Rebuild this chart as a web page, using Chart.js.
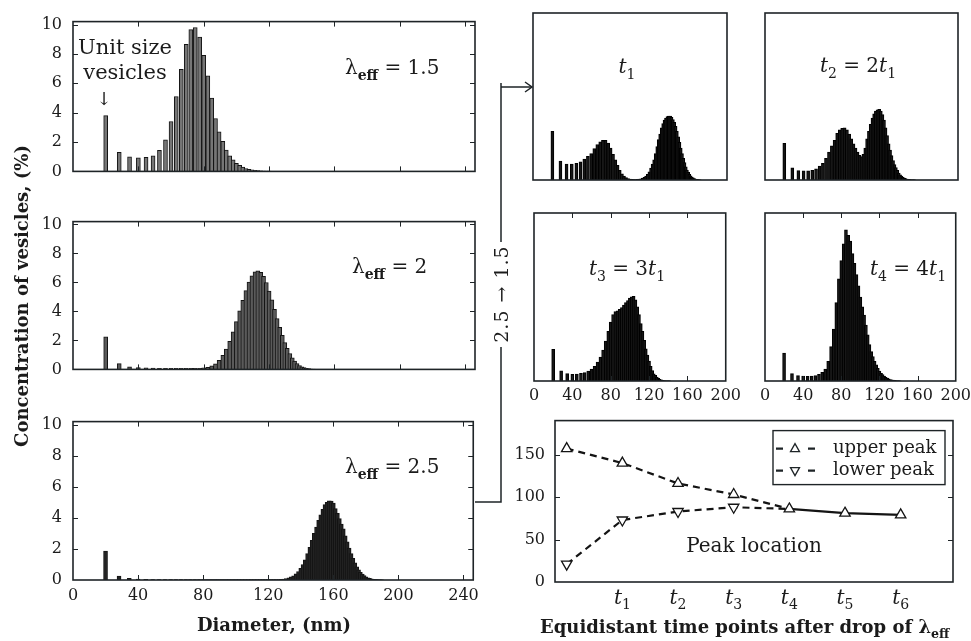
<!DOCTYPE html>
<html>
<head>
<meta charset="utf-8">
<script src="https://cdn.jsdelivr.net/npm/chart.js@4.4.1/dist/chart.umd.min.js"></script>
<style>
  body { margin: 0; width: 971px; height: 641px; overflow: hidden; background: #fff; position: relative;
         font-family: 'DejaVu Serif', serif; color: #1b1b1b; }
  .box { position: absolute; }
  .lbl { position: absolute; white-space: nowrap; transform: translate(-50%, -50%); font-size: 20px; line-height: 1; }
  .lft { transform: translate(0, -50%); }
  .rot { transform: translate(-50%, -50%) rotate(-90deg); }
  sub { font-size: 0.7em; vertical-align: -0.4em; line-height: 0; }
  sub.b { font-weight: bold; }
  i { font-style: italic; }
</style>
</head>
<body>

<div class="box" style="left:0;top:1px;width:485px;height:191px"><canvas id="cL15"></canvas></div>
<div class="box" style="left:0;top:201px;width:485px;height:189px"><canvas id="cL20"></canvas></div>
<div class="box" style="left:0;top:401px;width:485px;height:205px"><canvas id="cL25"></canvas></div>

<div class="box" style="left:523px;top:3px;width:214px;height:187px"><canvas id="cT1"></canvas></div>
<div class="box" style="left:755px;top:3px;width:213px;height:187px"><canvas id="cT2"></canvas></div>
<div class="box" style="left:516px;top:203px;width:230px;height:200px"><canvas id="cT3"></canvas></div>
<div class="box" style="left:747px;top:203px;width:229px;height:200px"><canvas id="cT4"></canvas></div>

<div class="box" style="left:500px;top:401px;width:463px;height:215px"><canvas id="cPeak"></canvas></div>

<svg class="box" style="left:0;top:0" width="971" height="641">
  <g stroke="#1e2427" stroke-width="1.5" fill="none">
    <path d="M501 242 V83 M501 87 H531"/>
    <path d="M525 82 L532 87 L525 92"/>
    <path d="M501 347 V502 H475"/>
  </g>
</svg>

<div class="lbl rot" style="left:22px;top:296px;font-size:18px;font-weight:bold">Concentration of vesicles, (%)</div>
<div class="lbl" style="left:274px;top:625px;font-size:18px;font-weight:bold">Diameter, (nm)</div>
<div class="lbl lft" style="left:540px;top:627px;font-size:18px;font-weight:bold">Equidistant time points after drop of λ<sub>eff</sub></div>

<div class="lbl" style="left:125px;top:47px;font-size:21px">Unit size</div>
<div class="lbl" style="left:125px;top:72px;font-size:21px">vesicles</div>
<div class="lbl" style="left:104px;top:99px;font-size:18px">↓</div>

<div class="lbl lft" style="left:345px;top:67px">λ<sub class="b">eff</sub> = 1.5</div>
<div class="lbl lft" style="left:352px;top:266px">λ<sub class="b">eff</sub> = 2</div>
<div class="lbl lft" style="left:345px;top:466px">λ<sub class="b">eff</sub> = 2.5</div>

<div class="lbl" style="left:627px;top:66px"><i>t</i><sub>1</sub></div>
<div class="lbl" style="left:858px;top:65px"><i>t</i><sub>2</sub> = 2<i>t</i><sub>1</sub></div>
<div class="lbl" style="left:627px;top:268px"><i>t</i><sub>3</sub> = 3<i>t</i><sub>1</sub></div>
<div class="lbl" style="left:908px;top:268px"><i>t</i><sub>4</sub> = 4<i>t</i><sub>1</sub></div>

<div class="lbl" style="left:754px;top:545px">Peak location</div>
<div class="lbl rot" style="left:501px;top:294px;font-size:19px;letter-spacing:1px">2.5 → 1.5</div>

<script>
// vesicle diameters (nm), one per vesicle size class
const diameters = [
  20.0, 28.3, 34.6, 40.0, 44.7, 49.0, 52.9, 56.6, 60.0, 63.2,
  66.3, 69.3, 72.1, 74.8, 77.5, 80.0, 82.5, 84.9, 87.2, 89.4,
  91.7, 93.8, 95.9, 98.0, 100.0, 102.0, 103.9, 105.8, 107.7, 109.5,
  111.4, 113.1, 114.9, 116.6, 118.3, 120.0, 121.7, 123.3, 124.9, 126.5,
  128.1, 129.6, 131.1, 132.7, 134.2, 135.6, 137.1, 138.6, 140.0, 141.4,
  142.8, 144.2, 145.6, 147.0, 148.3, 149.7, 151.0, 152.3, 153.6, 154.9,
  156.2, 157.5, 158.7, 160.0, 161.2, 162.5, 163.7, 164.9, 166.1, 167.3,
  168.5, 169.7, 170.9, 172.0, 173.2, 174.4, 175.5, 176.6, 177.8, 178.9,
  180.0, 181.1, 182.2, 183.3, 184.4, 185.5, 186.5, 187.6, 188.7, 189.7,
  190.8, 191.8, 192.9, 193.9, 194.9, 196.0, 197.0, 198.0, 199.0, 200.0
];

// concentrations (%) at steady state
const concLambda15 = [
  3.8, 1.3, 1.0, 0.92, 0.95, 1.06, 1.43, 2.15, 3.4, 5.1,
  6.95, 8.65, 9.65, 9.8, 9.15, 7.9, 6.5, 5.0, 3.6, 2.7,
  2.05, 1.45, 1.06, 0.78, 0.55, 0.41, 0.29, 0.2, 0.14, 0.1,
  0.07, 0.05, 0.04, 0.03, 0.02, 0.02, 0.01, 0.01, 0.01, 0.01
];
const concLambda20 = [
  2.25, 0.4, 0.17, 0.12, 0.1, 0.09, 0.08, 0.08, 0.07, 0.07,
  0.07, 0.07, 0.07, 0.07, 0.08, 0.1, 0.15, 0.24, 0.39, 0.62,
  0.97, 1.4, 1.94, 2.59, 3.3, 4.05, 4.77, 5.44, 6.03, 6.45,
  6.73, 6.8, 6.7, 6.43, 6.0, 5.4, 4.8, 4.15, 3.5, 2.9,
  2.35, 1.85, 1.45, 1.1, 0.8, 0.58, 0.4, 0.27, 0.18, 0.12,
  0.08, 0.05, 0.03, 0.02, 0.01, 0.01, 0.01, 0.01, 0.01, 0.01
];
const concLambda25 = [
  1.86, 0.25, 0.1, 0.06, 0.04, 0.03, 0.03, 0.03, 0.02, 0.02,
  0.02, 0.02, 0.02, 0.02, 0.02, 0.02, 0.02, 0.02, 0.02, 0.02,
  0.02, 0.02, 0.02, 0.02, 0.02, 0.02, 0.02, 0.02, 0.02, 0.02,
  0.02, 0.02, 0.02, 0.02, 0.02, 0.02, 0.02, 0.02, 0.02, 0.03,
  0.04, 0.06, 0.09, 0.14, 0.2, 0.27, 0.4, 0.55, 0.75, 1.0,
  1.3, 1.7, 2.1, 2.55, 3.0, 3.4, 3.85, 4.2, 4.55, 4.85,
  5.0, 5.1, 5.08, 4.95, 4.6, 4.3, 3.95, 3.6, 3.3, 2.85,
  2.45, 2.05, 1.7, 1.4, 1.1, 0.85, 0.65, 0.5, 0.38, 0.28,
  0.2, 0.14, 0.1, 0.07, 0.05, 0.03, 0.02, 0.015, 0.01, 0.01
];

// transient distributions after the drop 2.5 -> 1.5
const concT1 = [
  3.5, 1.36, 1.15, 1.15, 1.2, 1.3, 1.5, 1.7, 1.9, 2.25,
  2.55, 2.75, 2.85, 2.85, 2.65, 2.3, 1.85, 1.45, 1.05, 0.7,
  0.45, 0.28, 0.17, 0.1, 0.06, 0.04, 0.03, 0.03, 0.04, 0.06,
  0.09, 0.13, 0.2, 0.28, 0.4, 0.58, 0.85, 1.15, 1.45, 1.9,
  2.4, 2.9, 3.3, 3.75, 4.05, 4.3, 4.45, 4.55, 4.6, 4.6,
  4.5, 4.35, 4.15, 3.85, 3.5, 3.1, 2.7, 2.3, 1.9, 1.55,
  1.25, 0.95, 0.72, 0.55, 0.4, 0.3, 0.21, 0.15, 0.1, 0.07,
  0.05, 0.03, 0.02, 0.01
];
const concT2 = [
  2.63, 0.88, 0.67, 0.66, 0.66, 0.7, 0.8, 1.0, 1.2, 1.55,
  2.0, 2.45, 2.85, 3.35, 3.6, 3.72, 3.75, 3.6, 3.3, 2.95,
  2.6, 2.3, 2.0, 1.78, 1.68, 1.85, 2.3, 2.95, 3.5, 4.0,
  4.45, 4.75, 4.95, 5.05, 5.07, 4.95, 4.7, 4.3, 3.75, 3.2,
  2.6, 2.15, 1.75, 1.4, 1.1, 0.9, 0.7, 0.5, 0.38, 0.28,
  0.2, 0.14, 0.1, 0.07, 0.05, 0.03, 0.02, 0.01, 0.01, 0.01
];
const concT3 = [
  2.27, 0.72, 0.53, 0.48, 0.5, 0.55, 0.6, 0.7, 0.85, 1.05,
  1.35, 1.7, 2.2, 2.85, 3.55, 4.2, 4.75, 4.95, 5.02, 5.12,
  5.25, 5.42, 5.6, 5.75, 5.92, 6.02, 6.05, 5.8, 5.3, 4.75,
  4.1, 3.55, 2.9, 2.3, 1.85, 1.42, 1.05, 0.75, 0.52, 0.4,
  0.28, 0.19, 0.12, 0.08, 0.05, 0.03, 0.02, 0.01, 0.01, 0.01
];
const concT4 = [
  2.0, 0.53, 0.38, 0.35, 0.34, 0.35, 0.38, 0.47, 0.62, 0.85,
  1.4, 2.45, 3.7, 5.6, 7.3, 8.6, 9.8, 10.8, 10.4, 10.0,
  9.1, 8.4, 7.6, 6.8, 6.0, 5.3, 4.7, 4.0, 3.3, 2.6,
  2.1, 1.75, 1.4, 1.15, 0.9, 0.7, 0.55, 0.45, 0.35, 0.27,
  0.2, 0.15, 0.11, 0.08, 0.06, 0.04, 0.03, 0.02, 0.01, 0.01
];

// peak location (nm) at equidistant time points
const timeIndex = [0, 1, 2, 3, 4, 5, 6];
const upperPeak = [157, 140, 116, 103, 86, 81, 79];
const lowerPeak = [21, 73, 83, 88, 86];
const timeTicks = [1, 2, 3, 4, 5, 6];

const diamTicks = [0, 40, 80, 120, 160, 200, 240];
const smallDiamTicks = [0, 40, 80, 120, 160, 200];
const concTicks = [0, 2, 4, 6, 8, 10];
const peakTicks = [0, 50, 100, 150];

Chart.defaults.font.family = "'DejaVu Serif', serif";
Chart.defaults.font.size = 16;
Chart.defaults.color = '#1b1b1b';

const INK = '#1e2427';

// box around the plot area with inward tick marks
const framePlugin = {
  id: 'frame',
  afterDatasetsDraw(chart, args, opts) {
    const { ctx, chartArea: a } = chart;
    const len = 5;
    ctx.save();
    ctx.strokeStyle = INK;
    ctx.lineWidth = 1;
    ctx.beginPath();
    (opts.xTicks || []).forEach(v => {
      const px = Math.round(chart.scales.x.getPixelForValue(v)) + 0.5;
      ctx.moveTo(px, a.top); ctx.lineTo(px, a.top + len);
      ctx.moveTo(px, a.bottom); ctx.lineTo(px, a.bottom - len);
    });
    (opts.yTicks || []).forEach(v => {
      const py = Math.round(chart.scales.y.getPixelForValue(v)) + 0.5;
      ctx.moveTo(a.left, py); ctx.lineTo(a.left + len, py);
      ctx.moveTo(a.right, py); ctx.lineTo(a.right - len, py);
    });
    ctx.stroke();
    ctx.lineWidth = 1.6;
    ctx.strokeRect(a.left, a.top, a.right - a.left, a.bottom - a.top);
    ctx.restore();
  }
};

function histChart(id, heights, o) {
  const points = heights.map((h, i) => ({ x: diameters[i], y: h }));
  return new Chart(document.getElementById(id), {
    type: 'bar',
    data: {
      datasets: [{
        data: points,
        backgroundColor: o.fill,
        borderColor: o.stroke,
        borderWidth: 1,
        barThickness: o.thick,
        borderSkipped: 'start'
      }]
    },
    options: {
      animation: false,
      responsive: true,
      maintainAspectRatio: false,
      layout: { padding: o.pad },
      plugins: {
        legend: { display: false },
        tooltip: { enabled: false },
        frame: { xTicks: o.frameX, yTicks: o.frameY }
      },
      scales: {
        x: {
          type: 'linear', min: 0, max: o.xMax, offset: false, display: o.showX,
          grid: { display: false, drawTicks: false, offset: false },
          border: { display: false },
          afterBuildTicks: s => { s.ticks = o.xTicks.map(v => ({ value: v })); },
          afterFit: s => { if (o.showX) s.height = o.xHeight; },
          ticks: { padding: o.xPad, maxRotation: 0, autoSkip: false }
        },
        y: {
          min: 0, max: o.yMax, display: o.showY,
          grid: { display: false, drawTicks: false },
          border: { display: false },
          afterBuildTicks: s => { s.ticks = concTicks.map(v => ({ value: v })); },
          afterFit: s => { if (o.showY) s.width = 73; },
          ticks: { padding: 11 }
        }
      }
    },
    plugins: [framePlugin]
  });
}

const leftBase = {
  fill: '#767676', stroke: '#141414', thick: 4, xMax: 246, yMax: 10.2,
  showY: true, xTicks: diamTicks, frameX: diamTicks.slice(1), frameY: concTicks.slice(1), xHeight: 26, xPad: 6
};
histChart('cL15', concLambda15, { ...leftBase, showX: false, pad: { top: 12, bottom: 11, right: 10 } });
histChart('cL20', concLambda20, { ...leftBase, fill: '#5a5a5a', showX: false, pad: { top: 12, bottom: 11, right: 10 } });
histChart('cL25', concLambda25, { ...leftBase, fill: '#222', showX: true, pad: { top: 12, bottom: 0, right: 10 } });

const smallBase = {
  fill: '#151515', stroke: '#000', thick: 3, xMax: 200, yMax: 12,
  showY: false, xTicks: smallDiamTicks, frameY: [], xHeight: 22, xPad: 5
};
histChart('cT1', concT1, { ...smallBase, showX: false, frameX: [], pad: 10 });
histChart('cT2', concT2, { ...smallBase, showX: false, frameX: [], pad: 10 });
histChart('cT3', concT3, { ...smallBase, showX: true, frameX: [40, 80, 120, 160], pad: { left: 18, right: 18, top: 10, bottom: 0 } });
histChart('cT4', concT4, { ...smallBase, showX: true, frameX: [40, 80, 120, 160], pad: { left: 18, right: 18, top: 10, bottom: 0 } });

// line chart: legend box and t_i labels drawn on the canvas
const peakExtras = {
  id: 'peakExtras',
  afterDraw(chart) {
    const { ctx, chartArea: a } = chart;
    ctx.save();
    // time labels
    const y = a.bottom + 17;
    timeTicks.forEach(v => {
      const px = chart.scales.x.getPixelForValue(v);
      ctx.font = "italic 20px 'DejaVu Serif'";
      const w1 = ctx.measureText('t').width;
      ctx.font = "14px 'DejaVu Serif'";
      const w2 = ctx.measureText(String(v)).width;
      const x0 = px - (w1 + w2) / 2;
      ctx.fillStyle = '#1b1b1b';
      ctx.textBaseline = 'middle';
      ctx.font = "italic 20px 'DejaVu Serif'";
      ctx.fillText('t', x0, y);
      ctx.font = "14px 'DejaVu Serif'";
      ctx.fillText(String(v), x0 + w1, y + 6);
    });
    // legend
    const bx = a.right - 180, by = a.top + 10, bw = 172, bh = 54;
    ctx.fillStyle = '#fff';
    ctx.fillRect(bx, by, bw, bh);
    ctx.strokeStyle = INK;
    ctx.lineWidth = 1.4;
    ctx.strokeRect(bx, by, bw, bh);
    const rows = [['upper peak', 1], ['lower peak', -1]];
    rows.forEach(([txt, dir], k) => {
      const ry = by + 18 + k * 22;
      ctx.lineWidth = 2.2;
      ctx.beginPath();
      ctx.moveTo(bx + 3, ry); ctx.lineTo(bx + 10, ry);
      ctx.moveTo(bx + 35, ry); ctx.lineTo(bx + 42, ry);
      ctx.stroke();
      const cx = bx + 22, r = 5;
      ctx.lineWidth = 1.3;
      ctx.beginPath();
      ctx.moveTo(cx, ry - dir * r);
      ctx.lineTo(cx - r * 0.9, ry + dir * r * 0.6);
      ctx.lineTo(cx + r * 0.9, ry + dir * r * 0.6);
      ctx.closePath();
      ctx.fillStyle = '#fff';
      ctx.fill();
      ctx.stroke();
      ctx.fillStyle = '#1b1b1b';
      ctx.font = "18px 'DejaVu Serif'";
      ctx.textBaseline = 'middle';
      ctx.fillText(txt, bx + 60, ry);
    });
    ctx.restore();
  }
};

const mergeIndex = 4;
new Chart(document.getElementById('cPeak'), {
  type: 'line',
  data: {
    datasets: [{
      label: 'lower peak',
      data: lowerPeak.map((v, i) => ({ x: timeIndex[i], y: v })),
      borderColor: '#141414', borderWidth: 2.2, borderDash: [7, 5],
      pointStyle: 'triangle', pointRotation: 180,
      pointRadius: lowerPeak.map((v, i) => (i < mergeIndex ? 6 : 0)),
      pointBackgroundColor: '#fff', pointBorderColor: '#141414', pointBorderWidth: 1.3
    }, {
      label: 'upper peak',
      data: upperPeak.map((v, i) => ({ x: timeIndex[i], y: v })),
      borderColor: '#141414', borderWidth: 2.2, borderDash: [7, 5],
      segment: { borderDash: c => (c.p0DataIndex >= mergeIndex ? [] : [7, 5]) },
      pointStyle: 'triangle', pointRadius: 6,
      pointBackgroundColor: '#fff', pointBorderColor: '#141414', pointBorderWidth: 1.3
    }]
  },
  options: {
    animation: false,
    responsive: true,
    maintainAspectRatio: false,
    layout: { padding: { top: 12, bottom: 34, right: 10 } },
    plugins: {
      legend: { display: false },
      tooltip: { enabled: false },
      frame: { xTicks: [], yTicks: peakTicks.slice(1) }
    },
    scales: {
      x: { type: 'linear', min: -0.21, max: 6.94, display: false },
      y: {
        min: 0, max: 190,
        grid: { display: false, drawTicks: false },
        border: { display: false },
        afterBuildTicks: s => { s.ticks = peakTicks.map(v => ({ value: v })); },
        afterFit: s => { s.width = 55; },
        ticks: { padding: 10 }
      }
    }
  },
  plugins: [framePlugin, peakExtras]
});
</script>
</body>
</html>
